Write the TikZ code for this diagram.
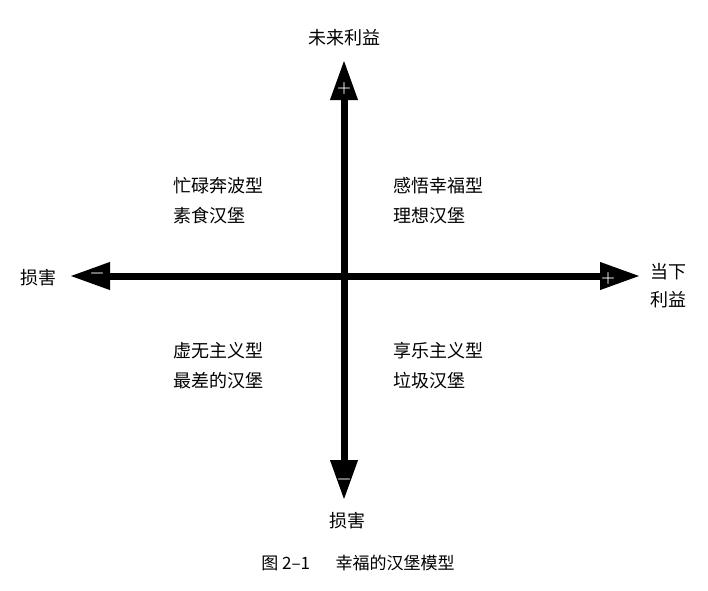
\documentclass[tikz,border=0pt]{standalone}
\usepackage{fontspec}
\newfontfamily\cjk{Noto Sans CJK SC}
\usetikzlibrary{arrows.meta}
\begin{document}
\begin{tikzpicture}[x=1pt,y=-1pt,
  axis/.style={line width=7pt,{Triangle[length=40pt,width=26pt]}-{Triangle[length=40pt,width=26pt]}},
  lbl/.style={font=\cjk\fontsize{18}{22}\selectfont,inner sep=0pt},
  sgn/.style={text=white,font=\bfseries\fontsize{16}{16}\selectfont,inner sep=0pt}]
\useasboundingbox[fill=white] (0,0) rectangle (708,590);
\coordinate (T) at (344,60);
\coordinate (B) at (344,500);
\coordinate (L) at (70,276);
\coordinate (R) at (640,276);
\draw[axis] (L) -- (R);
\draw[axis] (B) -- (T);
\node[sgn] (pt) at (344,89) {+};
\node[sgn] (pr) at (608,278) {+};
\node[sgn] (ml) at (97,275) {\textminus};
\node[sgn] (mb) at (344,481) {\textminus};
\node[lbl] (top) at (344,38) {未来利益};
\node[lbl] (left) at (38,278) {损害};
\node[lbl,align=left,anchor=west] (right) at (650,286) {当下\\[6pt]利益};
\node[lbl] (bot) at (347,521) {损害};
\node[lbl,anchor=west,align=left] (q1) at (173,201) {忙碌奔波型\\[8pt]素食汉堡};
\node[lbl,anchor=west,align=left] (q2) at (393,201) {感悟幸福型\\[8pt]理想汉堡};
\node[lbl,anchor=west,align=left] (q3) at (173,366) {虚无主义型\\[8pt]最差的汉堡};
\node[lbl,anchor=west,align=left] (q4) at (393,366) {享乐主义型\\[8pt]垃圾汉堡};
\node[lbl,font=\cjk\fontsize{17}{20}\selectfont] (cap) at (358,563) {图 2–1\hspace{1.5em}幸福的汉堡模型};
\end{tikzpicture}
\end{document}
